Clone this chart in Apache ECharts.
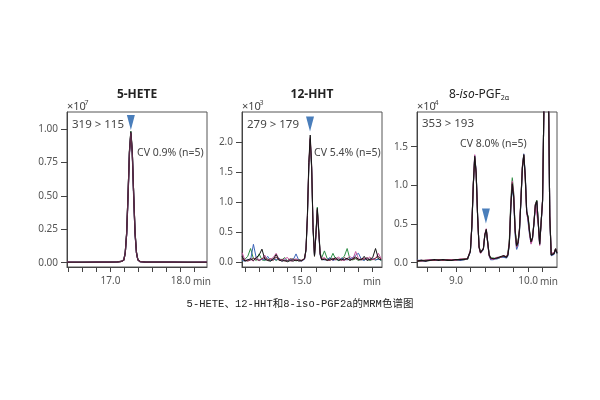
<!DOCTYPE html>
<html><head><meta charset="utf-8">
<script src="https://cdn.jsdelivr.net/npm/echarts@6/dist/echarts.min.js"></script>
<style>html,body{margin:0;padding:0;background:#fff}#c{width:600px;height:400px}</style>
</head><body><div id="c"></div>
<script>
// ---------- Panel 1: 5-HETE (x10^7) ----------
const t1 = [16.38,16.6,16.8,17.0,17.1,17.16,17.19,17.21,17.23,17.25,17.27,17.29,17.31,17.33,17.35,17.37,17.39,17.42,17.5,17.7,17.9,18.1,18.375];
const hete_green  = [0.003,0.004,0.003,0.004,0.005,0.010,0.021,0.074,0.22,0.51,0.84,0.985,0.84,0.51,0.23,0.08,0.023,0.009,0.005,0.004,0.003,0.004,0.003];
const hete_blue   = [0.004,0.003,0.004,0.004,0.006,0.011,0.021,0.073,0.21,0.49,0.82,0.965,0.82,0.50,0.21,0.074,0.021,0.008,0.005,0.004,0.004,0.003,0.004];
const hete_pink   = [0.004,0.003,0.004,0.004,0.006,0.010,0.020,0.074,0.21,0.50,0.83,0.975,0.83,0.51,0.22,0.074,0.021,0.008,0.005,0.004,0.004,0.003,0.004];
const hete_black  = [0.003,0.003,0.004,0.004,0.006,0.010,0.021,0.074,0.22,0.51,0.83,0.98,0.83,0.51,0.22,0.074,0.021,0.008,0.005,0.004,0.004,0.003,0.003];
const hete_maroon = [0.004,0.004,0.004,0.005,0.006,0.011,0.022,0.074,0.22,0.50,0.82,0.97,0.82,0.50,0.22,0.074,0.022,0.009,0.005,0.004,0.004,0.004,0.004];

// ---------- Panel 2: 12-HHT (x10^3) ----------
const t2 = [14.16,14.20,14.24,14.28,14.32,14.36,14.40,14.44,14.48,14.52,14.56,14.60,14.64,14.68,14.72,14.76,14.80,14.84,14.88,14.92,14.96,15.00,15.04,
            15.06,15.08,15.10,15.12,15.14,15.16,15.18,15.20,15.22,15.24,15.26,15.28,
            15.32,15.36,15.40,15.44,15.48,15.52,15.56,15.60,15.64,15.68,15.72,15.76,15.80,15.84,15.88,15.92,15.96,16.00,16.04,16.08,16.12];
const hht_green  = [0.02,0.05,0.10,0.23,0.06,0.03,0.14,0.04,0.03,0.06,0.02,0.07,0.03,0.06,0.04,0.08,0.02,0.04,0.06,0.02,0.05,0.03,0.06,
                    0.19,0.72,1.57,2.02,1.55,0.54,0.10,0.47,0.92,0.55,0.16,0.07,
                    0.19,0.06,0.04,0.15,0.05,0.03,0.06,0.10,0.23,0.05,0.04,0.06,0.03,0.05,0.04,0.06,0.03,0.05,0.04,0.06,0.03];
const hht_blue   = [0.03,0.02,0.05,0.04,0.30,0.07,0.03,0.05,0.04,0.10,0.03,0.06,0.04,0.07,0.02,0.04,0.03,0.05,0.04,0.14,0.03,0.02,0.05,
                    0.20,0.75,1.58,2.04,1.58,0.56,0.11,0.44,0.86,0.49,0.12,0.05,
                    0.04,0.05,0.08,0.03,0.05,0.04,0.07,0.05,0.04,0.06,0.08,0.12,0.15,0.05,0.03,0.07,0.05,0.06,0.04,0.05,0.04];
const hht_pink   = [0.16,0.04,0.03,0.05,0.02,0.09,0.04,0.05,0.12,0.03,0.05,0.08,0.15,0.05,0.03,0.06,0.08,0.02,0.03,0.06,0.03,0.04,0.05,
                    0.21,0.76,1.62,2.08,1.60,0.57,0.12,0.45,0.88,0.51,0.15,0.06,
                    0.08,0.03,0.05,0.04,0.06,0.09,0.04,0.03,0.06,0.10,0.05,0.18,0.06,0.04,0.07,0.05,0.09,0.04,0.06,0.15,0.06];
const hht_maroon = [0.05,0.03,0.02,0.04,0.07,0.05,0.03,0.06,0.08,0.04,0.06,0.03,0.09,0.03,0.05,0.02,0.03,0.06,0.05,0.03,0.04,0.02,0.07,
                    0.20,0.74,1.60,2.06,1.57,0.55,0.10,0.44,0.87,0.50,0.13,0.05,
                    0.06,0.04,0.03,0.07,0.04,0.06,0.03,0.08,0.05,0.04,0.05,0.07,0.04,0.06,0.05,0.08,0.04,0.05,0.07,0.10,0.05];
const hht_black  = [0.10,0.02,0.04,0.06,0.03,0.08,0.12,0.22,0.05,0.03,0.02,0.05,0.13,0.04,0.02,0.03,0.01,0.03,0.02,0.04,0.02,0.03,0.06,
                    0.22,0.78,1.66,2.12,1.62,0.58,0.11,0.46,0.90,0.52,0.14,0.04,
                    0.05,0.03,0.06,0.04,0.08,0.03,0.05,0.04,0.07,0.03,0.06,0.09,0.05,0.04,0.10,0.03,0.05,0.08,0.23,0.06,0.04];

// ---------- Panel 3: 8-iso-PGF2a (x10^4) ----------
const t3 = [8.46,8.52,8.58,8.64,8.70,8.76,8.82,8.88,8.94,9.00,9.06,9.12,9.16,
            9.20,9.22,9.24,9.26,9.28,9.30,9.32,
            9.34,9.36,9.38,9.40,9.42,9.44,9.46,9.48,
            9.52,9.57,9.62,9.66,9.70,
            9.72,9.74,9.76,9.78,9.80,9.82,9.84,
            9.86,9.88,9.90,9.92,9.94,9.96,9.98,10.00,10.02,10.04,
            10.06,10.08,10.10,10.12,10.14,10.16,
            10.18,10.20,10.22,10.24,10.26,10.28,10.30,10.32,
            10.34,10.36,10.38,10.40];
const pgf_green  = [0.02,0.02,0.03,0.03,0.03,0.04,0.03,0.03,0.04,0.03,0.04,0.05,0.04,
                    0.15,0.48,1.01,1.37,1.15,0.59,0.21,
                    0.14,0.12,0.18,0.35,0.42,0.27,0.10,0.06,
                    0.06,0.05,0.07,0.08,0.07,
                    0.12,0.30,0.80,1.10,0.90,0.43,0.23,
                    0.27,0.43,0.82,1.24,1.39,1.10,0.65,0.60,0.41,0.26,
                    0.31,0.52,0.75,0.81,0.53,0.25,
                    0.23,0.81,2.1,3.2,3.3,2.4,0.60,0.11,
                    0.09,0.12,0.16,0.13];
const pgf_blue   = [0.03,0.03,0.02,0.04,0.03,0.03,0.04,0.04,0.03,0.04,0.03,0.04,0.05,
                    0.14,0.46,0.99,1.39,1.17,0.61,0.20,
                    0.13,0.11,0.17,0.36,0.42,0.25,0.09,0.04,
                    0.04,0.05,0.07,0.07,0.06,
                    0.09,0.24,0.70,1.00,0.82,0.36,0.17,
                    0.22,0.40,0.80,1.21,1.41,1.14,0.68,0.52,0.36,0.25,
                    0.31,0.49,0.73,0.79,0.51,0.23,
                    0.21,0.79,2.1,3.2,3.3,2.4,0.58,0.09,
                    0.07,0.11,0.17,0.12];
const pgf_pink   = [0.03,0.02,0.03,0.04,0.03,0.04,0.03,0.04,0.04,0.03,0.05,0.04,0.05,
                    0.16,0.49,1.02,1.40,1.14,0.58,0.19,
                    0.12,0.11,0.19,0.37,0.44,0.25,0.09,0.05,
                    0.04,0.07,0.07,0.09,0.08,
                    0.11,0.27,0.76,1.06,0.88,0.40,0.20,
                    0.25,0.44,0.83,1.25,1.38,1.08,0.64,0.55,0.38,0.24,
                    0.30,0.52,0.76,0.78,0.50,0.22,
                    0.20,0.82,2.1,3.2,3.3,2.4,0.62,0.12,
                    0.10,0.13,0.17,0.14];
const pgf_maroon = [0.02,0.03,0.03,0.03,0.03,0.04,0.03,0.04,0.03,0.04,0.04,0.05,0.05,
                    0.15,0.47,1.00,1.36,1.15,0.60,0.21,
                    0.13,0.12,0.18,0.36,0.43,0.26,0.10,0.06,
                    0.05,0.06,0.07,0.09,0.07,
                    0.11,0.26,0.74,1.04,0.86,0.41,0.21,
                    0.26,0.43,0.81,1.23,1.40,1.11,0.66,0.57,0.39,0.27,
                    0.32,0.51,0.75,0.80,0.52,0.24,
                    0.22,0.80,2.1,3.2,3.3,2.4,0.60,0.10,
                    0.09,0.12,0.18,0.13];
const pgf_black  = [0.02,0.03,0.02,0.03,0.04,0.03,0.04,0.03,0.03,0.04,0.04,0.04,0.05,
                    0.15,0.47,1.00,1.38,1.16,0.60,0.20,
                    0.13,0.12,0.18,0.36,0.43,0.26,0.10,0.06,
                    0.05,0.06,0.08,0.09,0.07,
                    0.10,0.25,0.72,1.02,0.85,0.42,0.22,
                    0.26,0.42,0.80,1.22,1.40,1.12,0.66,0.58,0.40,0.27,
                    0.32,0.50,0.74,0.80,0.52,0.24,
                    0.22,0.80,2.1,3.2,3.3,2.4,0.60,0.10,
                    0.08,0.12,0.18,0.12];

// ---------- Ticks / labels ----------
const x1Ticks = [16.4,16.6,16.8,17.0,17.2,17.4,17.6,17.8,18.0,18.2];
const x1Labels = [17.0,18.0];
const x2Ticks = [14.2,14.4,14.6,14.8,15.0,15.2,15.4,15.6,15.8,16.0];
const x2Labels = [15.0];
const x3Ticks = [8.6,8.8,9.0,9.2,9.4,9.6,9.8,10.0,10.2];
const x3Labels = [9.0,10.0];
const y1Ticks = [0,0.25,0.5,0.75,1.0];
const y2Ticks = [0,0.5,1.0,1.5,2.0];
const y3Ticks = [0,0.5,1.0,1.5];

const titles = ['5-HETE','12-HHT','8-iso-PGF2α'];
const transitions = ['319 > 115','279 > 179','353 > 193'];
const cvTexts = ['CV 0.9% (n=5)','CV 5.4% (n=5)','CV 8.0% (n=5)'];
const exponents = ['7','3','4'];
const caption = '5-HETE、12-HHT和8-iso-PGF2a的MRM色谱图';
const markers = [[17.29,1.049],[15.117,2.305],[9.415,0.604]];

const COL = {green:'#2f8f46', blue:'#3b63b8', pink:'#c8579f', maroon:'#7b2f45', black:'#151515'};
const FONT = '"Noto Sans", "Open Sans", sans-serif';

const chart = echarts.init(document.getElementById('c'), null, {renderer:'canvas'});

const grids = [
  {left:67, top:112, width:140, height:155},
  {left:242, top:112, width:140, height:155},
  {left:417, top:112, width:140, height:155}
].map(g => Object.assign(g, {show:true, borderColor:'#555', borderWidth:1, containLabel:false}));

function xAx(i, min, max, ticks, labels){
  return {type:'value', gridIndex:i, min, max,
    axisLine:{show:true, onZero:false, lineStyle:{color:'#444', width:1}},
    axisTick:{show:true, customValues:ticks, length:5, lineStyle:{color:'#444'}},
    axisLabel:{customValues:labels, formatter:v=>v.toFixed(1), fontSize:10, color:'#555', margin:9, fontFamily:FONT},
    splitLine:{show:false}};
}
function yAx(i, min, max, ticks, dec){
  return {type:'value', gridIndex:i, min, max,
    axisLine:{show:true, onZero:false, lineStyle:{color:'#444', width:1}},
    axisTick:{show:true, customValues:ticks, length:6, lineStyle:{color:'#444'}},
    axisLabel:{customValues:ticks, formatter:v=>v.toFixed(dec), fontSize:10, color:'#555', margin:9, fontFamily:FONT},
    splitLine:{show:false}};
}

function line(i, t, arr, color, width, z, mk){
  const s = {type:'line', xAxisIndex:i, yAxisIndex:i, data:t.map((x,k)=>[x,arr[k]]),
    symbol:'none', silent:true, clip:true, z:z,
    lineStyle:{color:color, width:width}, itemStyle:{color:color}};
  if (mk) {
    s.markPoint = {symbol:'triangle', symbolRotate:180, symbolSize:[8,15], silent:true,
      itemStyle:{color:'#4a7ebb'}, label:{show:false}, data:[{coord:mk}]};
  }
  return s;
}

const series = [
  line(0,t1,hete_green,COL.green,1.2,2),
  line(0,t1,hete_blue,COL.blue,1.2,2),
  line(0,t1,hete_pink,COL.pink,1.2,2),
  line(0,t1,hete_black,COL.black,1.2,3),
  line(0,t1,hete_maroon,'#5a2a45',1.3,4, markers[0]),
  line(1,t2,hht_green,COL.green,1,2),
  line(1,t2,hht_blue,COL.blue,1,2),
  line(1,t2,hht_pink,COL.pink,1,2),
  line(1,t2,hht_maroon,COL.maroon,1,3),
  line(1,t2,hht_black,COL.black,1,4, markers[1]),
  line(2,t3,pgf_green,COL.green,1.1,2),
  line(2,t3,pgf_blue,COL.blue,1.1,2),
  line(2,t3,pgf_pink,COL.pink,1.1,2),
  line(2,t3,pgf_maroon,COL.maroon,1.1,3),
  line(2,t3,pgf_black,COL.black,1.1,4, markers[2])
];

function txt(x, y, text, opt){
  return Object.assign({type:'text', x:x, y:y, silent:true, z:100,
    style:Object.assign({text:text, fill:'#444', fontSize:11, fontFamily:FONT, align:'left', verticalAlign:'middle'}, opt||{})});
}

const graphic = [
  txt(137, 95, titles[0], {fontSize:12, fontWeight:'bold', fill:'#222', align:'center'}),
  txt(312, 95, titles[1], {fontSize:12, fontWeight:'bold', fill:'#222', align:'center'}),
  {type:'text', x:479, y:95, silent:true, z:100, style:{
    text:'{n|8-}{i|iso}{n|-PGF}{s|2α}', align:'center', verticalAlign:'middle',
    rich:{n:{fontSize:12, fill:'#222', fontFamily:FONT},
          i:{fontSize:12, fill:'#222', fontFamily:FONT, fontStyle:'italic'},
          s:{fontSize:7, fill:'#222', fontFamily:FONT, padding:[5,0,0,0]}}}},
  txt(67, 107, '×10', {fontSize:11}), txt(84.5, 103, exponents[0], {fontSize:7}),
  txt(242, 107, '×10', {fontSize:11}), txt(259.5, 103, exponents[1], {fontSize:7}),
  txt(417, 107, '×10', {fontSize:11}), txt(434.5, 103, exponents[2], {fontSize:7}),
  txt(72, 125, transitions[0], {fontSize:11.5}),
  txt(247, 125, transitions[1], {fontSize:11.5}),
  txt(422, 124, transitions[2], {fontSize:11.5}),
  txt(137, 153, cvTexts[0], {fontSize:10.5}),
  txt(314, 153, cvTexts[1], {fontSize:10.5}),
  txt(460, 144, cvTexts[2], {fontSize:10.5}),
  txt(211, 282, 'min', {fontSize:10, fill:'#555', align:'right'}),
  txt(381, 282, 'min', {fontSize:10, fill:'#555', align:'right'}),
  txt(558, 282, 'min', {fontSize:10, fill:'#555', align:'right'}),
  txt(300, 304, caption, {fontSize:10.5, fill:'#222', align:'center', fontFamily:'"Liberation Mono","Noto Sans CJK SC",monospace'})
];

chart.setOption({
  animation:false,
  backgroundColor:'#fff',
  grid:grids,
  xAxis:[xAx(0,16.38,18.375,x1Ticks,x1Labels), xAx(1,14.159,16.131,x2Ticks,x2Labels), xAx(2,8.46,10.40,x3Ticks,x3Labels)],
  yAxis:[yAx(0,-0.032,1.127,y1Ticks,2), yAx(1,-0.078,2.505,y2Ticks,1), yAx(2,-0.056,1.949,y3Ticks,1)],
  series:series,
  graphic:graphic
});
</script></body></html>
